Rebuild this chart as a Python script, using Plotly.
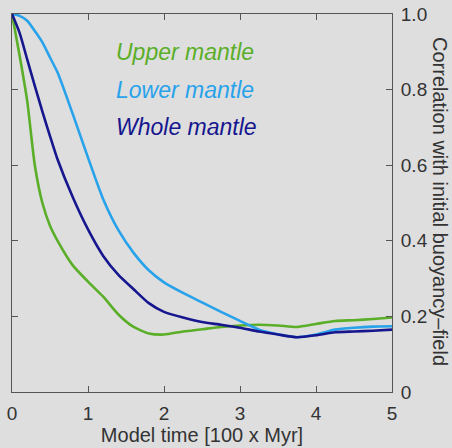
import plotly.graph_objects as go

time = [0, 0.1, 0.2, 0.3, 0.4, 0.5, 0.6, 0.8, 1.0, 1.2, 1.4, 1.6, 1.8, 2.0,
        2.25, 2.5, 2.75, 3.0, 3.25, 3.5, 3.75, 4.0, 4.25, 4.5, 4.75, 5.0]

upper_mantle = [1.0, 0.89, 0.77, 0.60, 0.50, 0.44, 0.40, 0.335, 0.292, 0.252, 0.205,
                0.172, 0.155, 0.152, 0.160, 0.166, 0.172, 0.176, 0.178, 0.176, 0.172,
                0.180, 0.188, 0.190, 0.193, 0.197]
lower_mantle = [1.0, 0.995, 0.982, 0.955, 0.925, 0.885, 0.845, 0.735, 0.62, 0.51, 0.428,
                0.368, 0.322, 0.29, 0.262, 0.237, 0.212, 0.188, 0.165, 0.153, 0.145,
                0.152, 0.165, 0.170, 0.173, 0.174]
whole_mantle = [1.0, 0.95, 0.88, 0.81, 0.742, 0.677, 0.615, 0.515, 0.43, 0.36, 0.31,
                0.272, 0.235, 0.212, 0.197, 0.185, 0.178, 0.170, 0.160, 0.152, 0.145,
                0.150, 0.158, 0.160, 0.162, 0.165]

series_names = ["Upper mantle", "Lower mantle", "Whole mantle"]
series_values = [upper_mantle, lower_mantle, whole_mantle]
series_colors = ["#5aae28", "#28a2eb", "#16168e"]
label_y = [0.90, 0.80, 0.70]

x_ticks = [0, 1, 2, 3, 4, 5]
x_ticktext = ["0", "1", "2", "3", "4", "5"]
y_ticks = [0, 0.2, 0.4, 0.6, 0.8, 1.0]
y_ticktext = ["0", "0.2", "0.4", "0.6", "0.8", "1.0"]

x_title = "Model time [100 x Myr]"
y_title = "Correlation with initial buoyancy\u2013field"

font_family = "Liberation Sans, Arial, Helvetica, sans-serif"
bg = "#dedede"
axis_color = "#555555"
text_color = "#333333"

fig = go.Figure()
for name, vals, col in zip(series_names, series_values, series_colors):
    fig.add_trace(go.Scatter(x=time, y=vals, mode="lines", name=name,
                             line=dict(color=col, width=2.6, shape="spline", smoothing=0.6),
                             showlegend=False))

for name, col, yy in zip(series_names, series_colors, label_y):
    fig.add_annotation(x=1.38, y=yy, xref="x", yref="y", text=name, showarrow=False,
                       xanchor="left", yanchor="middle", xshift=-3,
                       font=dict(family=font_family, size=23, color=col, style="italic"))

fig.add_annotation(x=1.0, y=0.5, xref="paper", yref="paper", text=y_title,
                   showarrow=False, textangle=90, xanchor="center", yanchor="middle",
                   xshift=48, yshift=2,
                   font=dict(family=font_family, size=20, color=text_color))

fig.update_xaxes(range=[0, 5], tickvals=x_ticks, ticktext=x_ticktext, automargin=False,
                 showline=True, linecolor=axis_color, linewidth=1, mirror="ticks",
                 ticks="inside", ticklen=6, tickcolor=axis_color, showgrid=False,
                 zeroline=False, ticklabelstandoff=4,
                 tickfont=dict(family=font_family, size=19, color=text_color),
                 title=dict(text=x_title, font=dict(family=font_family, size=20, color=text_color),
                            standoff=4))
fig.update_yaxes(range=[0, 1], tickvals=y_ticks, ticktext=y_ticktext, side="right",
                 automargin=False,
                 showline=True, linecolor=axis_color, linewidth=1, mirror="ticks",
                 ticks="inside", ticklen=6, tickcolor=axis_color, showgrid=False,
                 zeroline=False, ticklabelstandoff=4,
                 tickfont=dict(family=font_family, size=19, color=text_color))

fig.update_layout(width=452, height=448, margin=dict(l=12, r=60, t=14, b=56),
                  paper_bgcolor=bg, plot_bgcolor=bg)

fig.write_html("out.html")
